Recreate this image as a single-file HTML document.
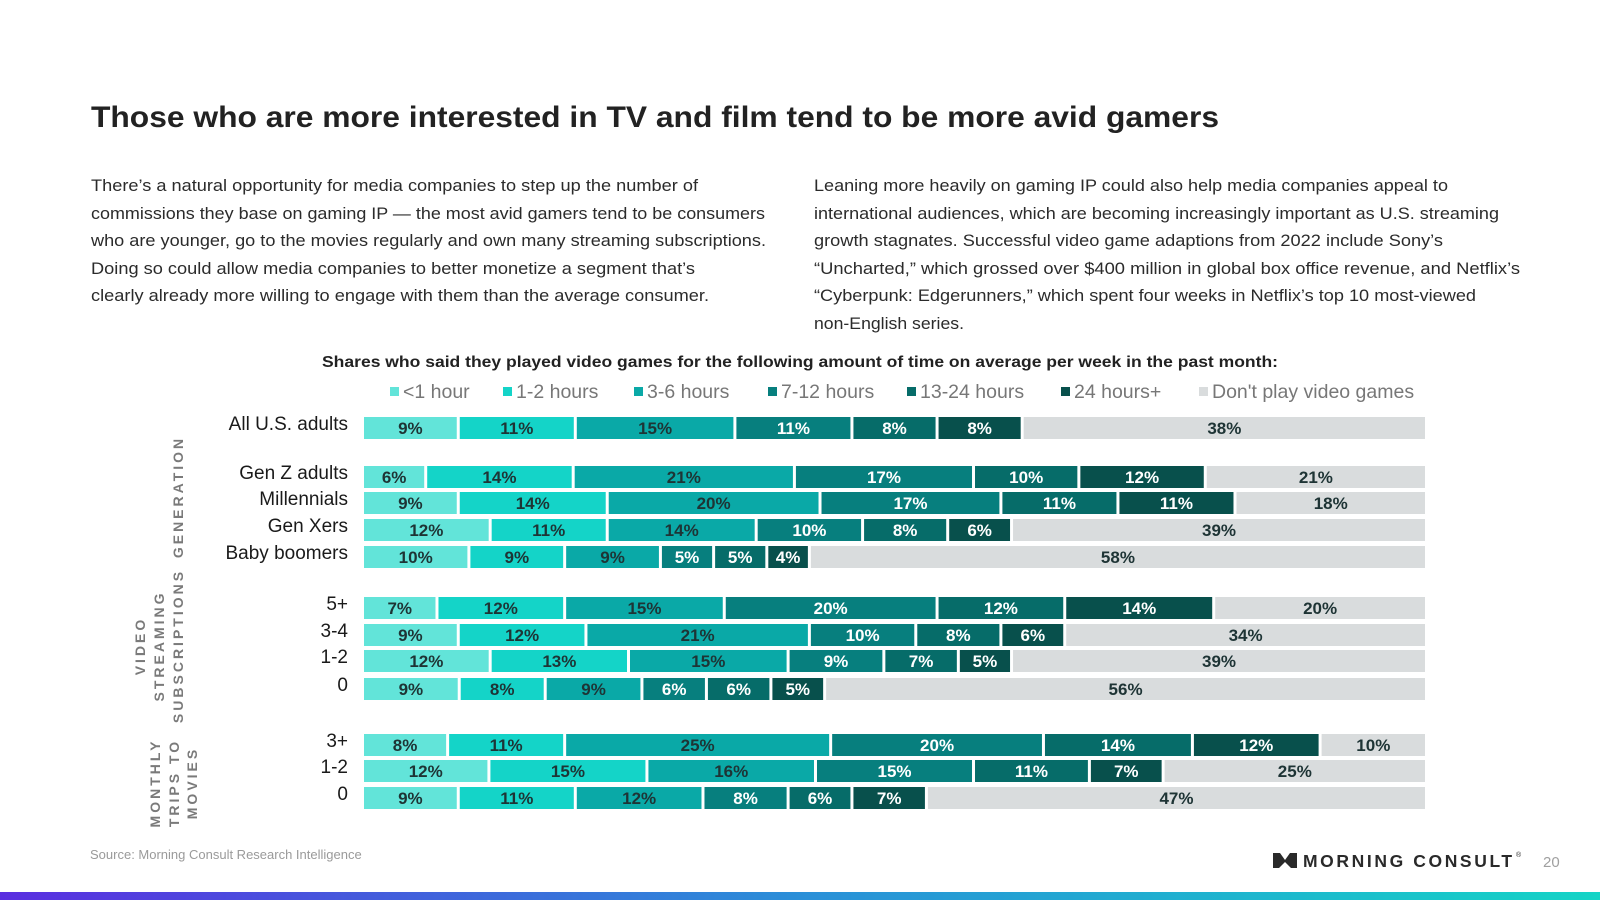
<!DOCTYPE html>
<html><head><meta charset="utf-8">
<style>
body{margin:0;background:#fff;}
svg{display:block;font-family:"Liberation Sans",sans-serif;}
.para{font-size:16.5px;fill:#2b2b2b;}
</style></head>
<body>
<svg id="chart" width="1600" height="900" viewBox="0 0 1600 900">
<defs>
<linearGradient id="bottomGrad" x1="0" x2="1" y1="0" y2="0">
<stop offset="0" stop-color="#5a2ee0"/><stop offset="0.5" stop-color="#2a8fd8"/><stop offset="1" stop-color="#14d4c6"/>
</linearGradient>
</defs>
<text x="91" y="127" font-size="30" font-weight="bold" fill="#222" textLength="1128" lengthAdjust="spacingAndGlyphs">Those who are more interested in TV and film tend to be more avid gamers</text>
<g class="para">
<text x="91" y="191" textLength="607" lengthAdjust="spacingAndGlyphs">There’s a natural opportunity for media companies to step up the number of</text>
<text x="91" y="219" textLength="674" lengthAdjust="spacingAndGlyphs">commissions they base on gaming IP — the most avid gamers tend to be consumers</text>
<text x="91" y="246" textLength="675" lengthAdjust="spacingAndGlyphs">who are younger, go to the movies regularly and own many streaming subscriptions.</text>
<text x="91" y="274" textLength="604" lengthAdjust="spacingAndGlyphs">Doing so could allow media companies to better monetize a segment that’s</text>
<text x="91" y="301" textLength="618" lengthAdjust="spacingAndGlyphs">clearly already more willing to engage with them than the average consumer.</text>
</g>
<g class="para">
<text x="814" y="191" textLength="634" lengthAdjust="spacingAndGlyphs">Leaning more heavily on gaming IP could also help media companies appeal to</text>
<text x="814" y="219" textLength="685" lengthAdjust="spacingAndGlyphs">international audiences, which are becoming increasingly important as U.S. streaming</text>
<text x="814" y="246" textLength="629" lengthAdjust="spacingAndGlyphs">growth stagnates. Successful video game adaptions from 2022 include Sony’s</text>
<text x="814" y="274" textLength="706" lengthAdjust="spacingAndGlyphs">“Uncharted,” which grossed over $400 million in global box office revenue, and Netflix’s</text>
<text x="814" y="301" textLength="662" lengthAdjust="spacingAndGlyphs">“Cyberpunk: Edgerunners,” which spent four weeks in Netflix’s top 10 most-viewed</text>
<text x="814" y="329" textLength="150" lengthAdjust="spacingAndGlyphs">non-English series.</text>
</g>
<text x="800" y="367" text-anchor="middle" font-size="15.5" font-weight="bold" fill="#222" textLength="956" lengthAdjust="spacingAndGlyphs">Shares who said they played video games for the following amount of time on average per week in the past month:</text>
<g id="legend"></g>
<g id="groups" fill="#7a7a7a" font-size="14" font-weight="bold" letter-spacing="3" text-anchor="middle">
<text transform="translate(183,497) rotate(-90)">GENERATION</text>
<g transform="translate(0,646) rotate(-90)">
<text x="0" y="145">VIDEO</text><text x="0" y="164">STREAMING</text><text x="0" y="183">SUBSCRIPTIONS</text></g>
<g transform="translate(0,783) rotate(-90)">
<text x="0" y="160">MONTHLY</text><text x="0" y="179">TRIPS TO</text><text x="0" y="197">MOVIES</text></g>
</g>
<g id="bars"></g>
<text x="90" y="859" font-size="13" fill="#9a9a9a">Source: Morning Consult Research Intelligence</text>
<g>
<path d="M1273,853 L1280,853 L1285,860 L1290,853 L1297,853 L1297,868 L1291,868 L1285,862 L1279,868 L1273,868 Z" fill="#2a2a2a"/>
<text x="1303" y="867" font-size="17.5" font-weight="bold" fill="#2a2a2a" letter-spacing="2.6">MORNING CONSULT</text>
<text x="1516" y="857" font-size="7" fill="#2a2a2a">®</text>
</g>
<text x="1543" y="867" font-size="15" fill="#a0a0a0">20</text>
<rect x="0" y="892" width="1600" height="8" fill="url(#bottomGrad)"/>
</svg>
<script>
const seriesNames = ["<1 hour","1-2 hours","3-6 hours","7-12 hours","13-24 hours","24 hours+","Don't play video games"];
const seriesColors = ["#62e4d9","#14d4c8","#0aa9a7","#077f7e","#066c69","#08504c","#d9dcdd"];
const labelColors = ["#1e3435","#1e3435","#1e3435","#ffffff","#ffffff","#ffffff","#1e3435"];
const categories = ["All U.S. adults","Gen Z adults","Millennials","Gen Xers","Baby boomers","5+","3-4","1-2","0","3+","1-2","0"];
const sLt1 = [9,6,9,12,10,7,9,12,9,8,12,9];
const s1to2 = [11,14,14,11,9,12,12,13,8,11,15,11];
const s3to6 = [15,21,20,14,9,15,21,15,9,25,16,12];
const s7to12 = [11,17,17,10,5,20,10,9,6,20,15,8];
const s13to24 = [8,10,11,8,5,12,8,7,6,14,11,6];
const s24plus = [8,12,11,6,4,14,6,5,5,12,7,7];
const sNone = [38,21,18,39,58,20,34,39,56,10,25,47];
const rowCenters = [428,477,503,530,557,608,635,661,689,745,771,798];
const NS="http://www.w3.org/2000/svg";
const series=[sLt1,s1to2,s3to6,s7to12,s13to24,s24plus,sNone];
const x0=364, x1=1428, barH=22, gap=3;
const bars=document.getElementById('bars');
function mk(tag,attrs){const e=document.createElementNS(NS,tag);for(const k in attrs)e.setAttribute(k,attrs[k]);return e;}
categories.forEach((cat,i)=>{
  const cy=rowCenters[i];
  const lab=mk('text',{x:348,y:cy+2,'text-anchor':'end','font-size':19,fill:'#1a1a1a'});
  
  
  lab.textContent=cat;bars.appendChild(lab);
  const vals=series.map(s=>s[i]);
  const total=vals.reduce((a,b)=>a+b,0);
  const scale=(x1-x0)/total;
  let x=x0;
  vals.forEach((v,j)=>{
    const w=v*scale;
    const r=mk('rect',{x:x,y:cy-barH/2,width:Math.max(0,w-gap),height:barH,fill:seriesColors[j]});
    
    
    bars.appendChild(r);
    const t=mk('text',{x:x+(w-gap)/2,y:cy+6,'text-anchor':'middle','font-size':17,'font-weight':'bold',fill:labelColors[j]});
    
    
    t.textContent=v+'%';bars.appendChild(t);
    x+=w;
  });
});
const legendX=[390,503,634,768,907,1061,1199];
const lg=document.getElementById('legend');
seriesNames.forEach((n,j)=>{
  const g=mk('g',{});
  
  
  g.appendChild(mk('rect',{x:legendX[j],y:387,width:9,height:9,fill:seriesColors[j]}));
  const t=mk('text',{x:legendX[j]+13,y:398,'font-size':19.5,fill:'#777'});
  t.textContent=n;g.appendChild(t);lg.appendChild(g);
});
</script>
</body></html>
